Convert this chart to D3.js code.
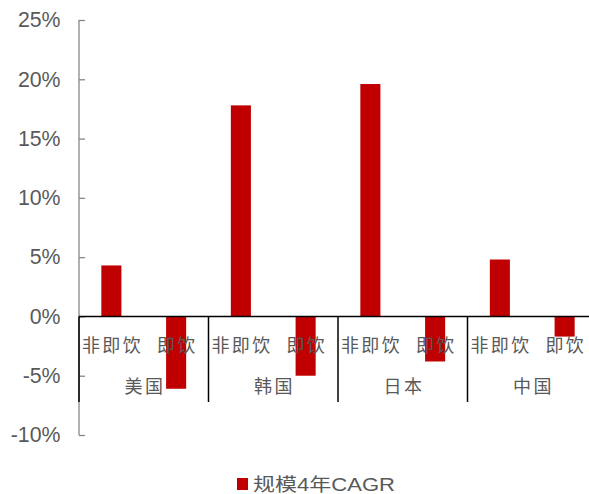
<!DOCTYPE html>
<html>
<head>
<meta charset="utf-8">
<script src="https://cdn.jsdelivr.net/npm/d3@7"></script>
<style>
  html, body { margin: 0; padding: 0; background: #fff; }
  svg { display: block; }
</style>
</head>
<body>
<svg id="chart" width="589" height="494"></svg>
<script>
// Markets and drink types
const countries = ["美国", "韩国", "日本", "中国"];
const drinkTypes = ["非即饮", "即饮"];
// 4-year CAGR of market size (%), per country: [非即饮, 即饮]
const cagrNonRTD = [4.3, 17.8, 19.6, 4.8];
const cagrRTD = [-6.1, -5.0, -3.8, -1.7];
const yTicks = [-10, -5, 0, 5, 10, 15, 20, 25];
const legendLabel = "规模4年CAGR";

const rows = [];
countries.forEach((c, i) => {
  rows.push({ country: c, type: drinkTypes[0], key: c + "|" + drinkTypes[0], value: cagrNonRTD[i] });
  rows.push({ country: c, type: drinkTypes[1], key: c + "|" + drinkTypes[1], value: cagrRTD[i] });
});

const svg = d3.select("#chart");
const plotLeft = 79, plotRight = 597, plotTop = 20, plotBottom = 435;
const barColor = "#C00000";
const textColor = "#595959";

const y = d3.scaleLinear().domain([-10, 25]).range([plotBottom, plotTop]);
const xGroup = d3.scaleBand().domain(countries).range([plotLeft, plotRight]);
const x = d3.scaleBand().domain(rows.map(d => d.key)).range([plotLeft, plotRight]).paddingInner(0.69).paddingOuter(0.345);

// Y axis
const yAxis = d3.axisLeft(y).tickValues(yTicks).tickSize(-6).tickPadding(18.5)
  .tickFormat(d => d + "%");
const gy = svg.append("g").attr("transform", `translate(${plotLeft},0)`).call(yAxis);
gy.select(".domain").attr("stroke", "#878787").attr("stroke-width", 1.3)
  .attr("d", `M0,${plotTop}V${plotBottom}`);
gy.selectAll(".tick line").attr("stroke", "#878787").attr("stroke-width", 1.3);
gy.selectAll(".tick text")
  .attr("fill", textColor)
  .style("font-family", "'Liberation Sans', Arial, sans-serif")
  .style("font-size", "21.3px");

// Bars
svg.append("g").selectAll("rect").data(rows).join("rect")
  .attr("x", d => x(d.key))
  .attr("width", x.bandwidth())
  .attr("y", d => y(Math.max(0, d.value)))
  .attr("height", d => Math.abs(y(d.value) - y(0)))
  .attr("fill", barColor);

// Zero baseline
svg.append("line")
  .attr("x1", plotLeft).attr("x2", 589)
  .attr("y1", y(0)).attr("y2", y(0))
  .attr("stroke", "#000").attr("stroke-width", 1.5);

// Group separators
const sepBottom = 402;
svg.append("g").selectAll("line").data(countries).join("line")
  .attr("x1", d => xGroup(d)).attr("x2", d => xGroup(d))
  .attr("y1", y(0)).attr("y2", sepBottom)
  .attr("stroke", "#000").attr("stroke-width", 1.5);

const cjk = "'Noto Sans CJK SC', 'Noto Sans CJK JP', sans-serif";

// Drink type labels
svg.append("g").selectAll("text").data(rows).join("text")
  .attr("x", d => x(d.key) + x.bandwidth() / 2 + 1.2)
  .attr("y", 352)
  .attr("text-anchor", "middle")
  .attr("fill", textColor)
  .style("font-family", cjk)
  .style("font-size", "18px")
  .style("letter-spacing", "2.4px")
  .text(d => d.type);

// Country labels
svg.append("g").selectAll("text").data(countries).join("text")
  .attr("x", d => xGroup(d) + xGroup.bandwidth() / 2 + 1.2)
  .attr("y", 393)
  .attr("text-anchor", "middle")
  .attr("fill", textColor)
  .style("font-family", cjk)
  .style("font-size", "18px")
  .style("letter-spacing", "2.4px")
  .text(d => d);

// Legend
const lg = svg.append("g").attr("transform", "translate(237,478)");
lg.append("rect").attr("width", 11).attr("height", 12).attr("fill", barColor);
lg.append("text").attr("x", 16).attr("y", 12.5)
  .attr("fill", textColor)
  .attr("textLength", 142)
  .attr("lengthAdjust", "spacingAndGlyphs")
  .style("font-family", "'Liberation Sans', Arial, " + cjk)
  .style("font-size", "18.5px")
  .text(legendLabel);
</script>
</body>
</html>
